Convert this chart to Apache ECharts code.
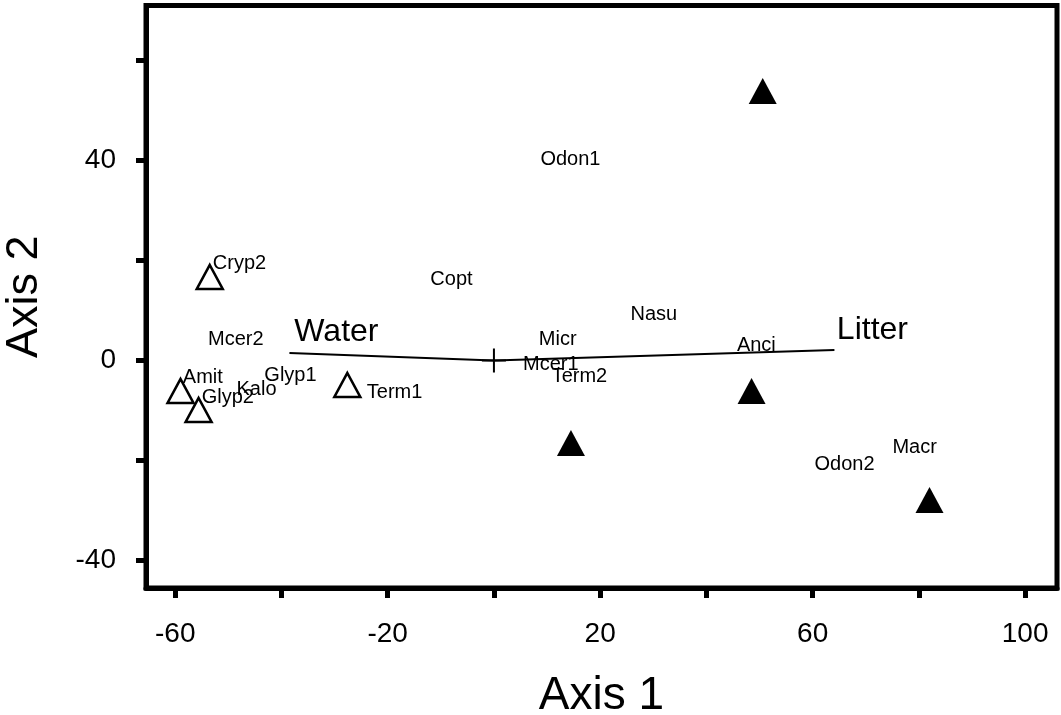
<!DOCTYPE html>
<html>
<head>
<meta charset="utf-8">
<title>Ordination biplot</title>
<script src="https://cdn.jsdelivr.net/npm/echarts@6/dist/echarts.min.js"></script>
<style>
  html, body { margin: 0; padding: 0; background: #fff; }
  #chart { width: 1061px; height: 715px; }
</style>
</head>
<body>
<div id="chart"></div>
<script>
// Species scores (drawn as text labels only)
const speciesNames = ['Odon1', 'Cryp2', 'Copt', 'Nasu', 'Mcer2', 'Micr', 'Mcer1', 'Term2', 'Anci',
  'Odon2', 'Macr', 'Amit', 'Glyp2', 'Kalo', 'Glyp1', 'Term1'];
const speciesX = [14.4, -47.9, -8.0, 30.1, -48.6, 12.0, 10.7, 16.1, 49.4,
  66.0, 79.2, -54.8, -50.1, -44.7, -38.3, -18.7];
const speciesY = [40.3, 19.5, 16.3, 9.3, 4.3, 4.3, -0.8, -3.1, 3.1,
  -20.7, -17.3, -3.3, -7.3, -5.7, -2.9, -6.3];

// Site scores, group 1 (open triangles)
const openSiteX = [-53.5, -59.0, -55.6, -27.6];
const openSiteY = [16.7, -6.1, -9.9, -4.9];

// Site scores, group 2 (filled triangles)
const filledSiteX = [50.6, 14.5, 48.5, 82.0];
const filledSiteY = [53.9, -16.5, -6.1, -27.9];

// Environmental vectors, drawn from the centroid
const vectorNames = ['Water', 'Litter'];
const vectorX = [-38.5, 64.1];
const vectorY = [1.5, 2.1];

// Axis ticks and labels
const xTickValues = [-60, -40, -20, 0, 20, 40, 60, 80, 100];
const xLabelValues = [-60, -20, 20, 60, 100];
const yTickValues = [-40, -20, 0, 20, 40, 60];
const yLabelValues = [-40, 0, 40];

const FONT = '"Liberation Sans", Arial, Helvetica, sans-serif';
const vectorLabelOffsets = { Water: [47, -21], Litter: [38, -20] };

const chart = echarts.init(document.getElementById('chart'), null, { renderer: 'canvas' });

const speciesData = speciesNames.map((n, i) => ({ name: n, value: [speciesX[i], speciesY[i]] }));
const openData = openSiteX.map((x, i) => [x, openSiteY[i]]);
const filledData = filledSiteX.map((x, i) => [x, filledSiteY[i]]);

const vectorSeries = vectorNames.map((n, i) => ({
  type: 'line',
  name: n,
  data: [[0, 0], [vectorX[i], vectorY[i]]],
  symbol: 'none',
  silent: true,
  lineStyle: { color: '#000', width: 2 },
  z: 3
}));

const vectorLabelData = vectorNames.map((n, i) => ({
  name: n,
  value: [vectorX[i], vectorY[i]],
  label: { offset: vectorLabelOffsets[n] }
}));

const axisLabelStyle = { color: '#000', fontSize: 28, fontFamily: FONT };

chart.setOption({
  animation: false,
  backgroundColor: '#fff',
  grid: {
    left: 146, right: 4, top: 5.5, bottom: 127,
    outerBoundsMode: 'none', containLabel: false,
    show: true, borderColor: '#000', borderWidth: 5, backgroundColor: 'transparent'
  },
  xAxis: {
    type: 'value', min: -65.5, max: 106,
    name: 'Axis 1', nameLocation: 'middle', nameGap: 85,
    nameTextStyle: { color: '#000', fontSize: 46, fontFamily: FONT },
    axisLine: { show: true, onZero: false, lineStyle: { color: '#000', width: 5 } },
    axisTick: { show: true, length: 10, customValues: xTickValues, lineStyle: { color: '#000', width: 5 } },
    axisLabel: Object.assign({ margin: 32, customValues: xLabelValues }, axisLabelStyle),
    splitLine: { show: false }
  },
  yAxis: {
    type: 'value', min: -45.5, max: 71,
    name: 'Axis 2', nameLocation: 'middle', nameGap: 99,
    nameTextStyle: { color: '#000', fontSize: 45, fontFamily: FONT },
    axisLine: { show: true, onZero: false, lineStyle: { color: '#000', width: 5 } },
    axisTick: { show: true, length: 10, customValues: yTickValues, lineStyle: { color: '#000', width: 5 } },
    axisLabel: Object.assign({ margin: 30, customValues: yLabelValues }, axisLabelStyle),
    splitLine: { show: false }
  },
  series: [
    ...vectorSeries,
    {
      type: 'scatter',
      name: 'centroid',
      data: [[0, 0]],
      symbol: 'path://M12 0 V24 M0 12 H24',
      symbolSize: 24,
      itemStyle: { color: 'none', borderColor: '#000', borderWidth: 2, opacity: 1 },
      z: 4
    },
    {
      type: 'scatter',
      name: 'vector labels',
      data: vectorLabelData,
      symbolSize: 0,
      itemStyle: { opacity: 1 },
      label: {
        show: true, position: 'inside', formatter: '{b}',
        color: '#000', fontSize: 32, fontFamily: FONT
      },
      z: 5
    },
    {
      type: 'scatter',
      name: 'species',
      data: speciesData,
      symbolSize: 0,
      itemStyle: { opacity: 1 },
      label: {
        show: true, position: 'inside', formatter: '{b}',
        color: '#000', fontSize: 20, fontFamily: FONT
      },
      z: 5
    },
    {
      type: 'scatter',
      name: 'sites group 1',
      data: openData,
      symbol: 'triangle',
      symbolSize: [26, 24],
      itemStyle: { color: 'rgba(255,255,255,0)', borderColor: '#000', borderWidth: 2.5, opacity: 1 },
      z: 6
    },
    {
      type: 'scatter',
      name: 'sites group 2',
      data: filledData,
      symbol: 'triangle',
      symbolSize: [28, 26],
      itemStyle: { color: '#000', opacity: 1 },
      z: 6
    }
  ]
});
</script>
</body>
</html>
